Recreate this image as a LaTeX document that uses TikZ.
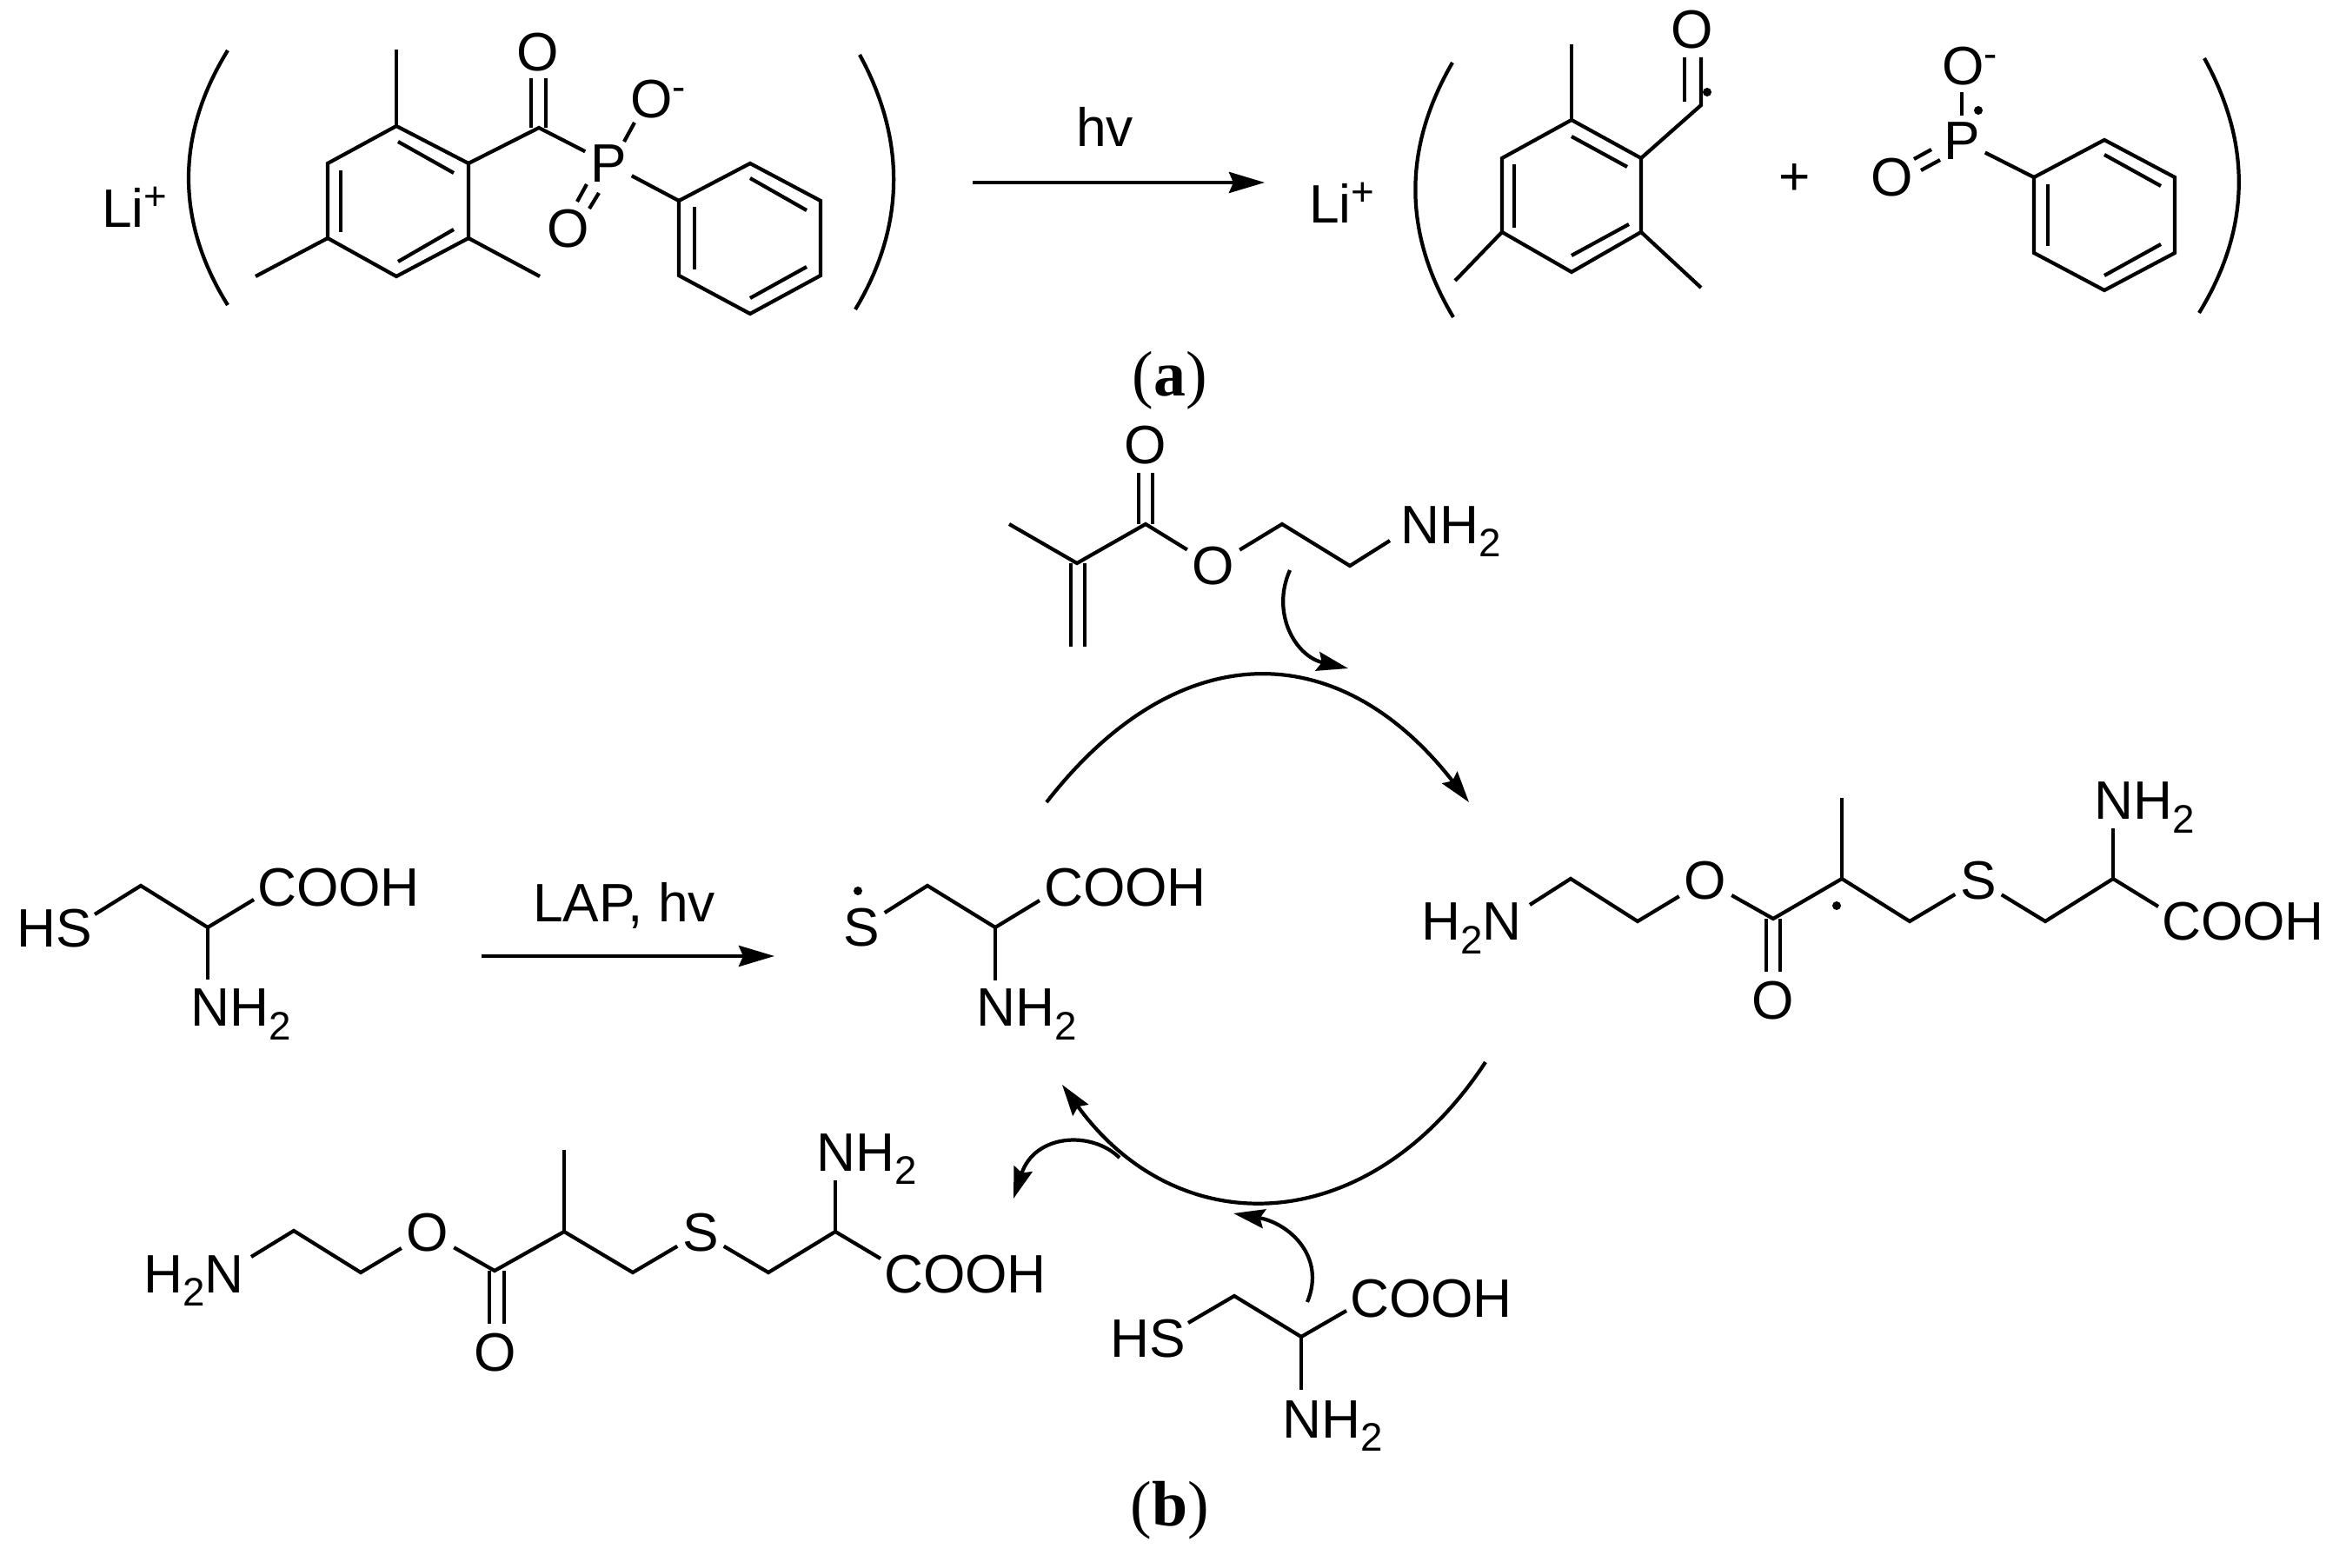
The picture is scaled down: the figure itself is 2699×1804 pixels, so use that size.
\documentclass[tikz,border=0pt]{standalone}
\usepackage{fontspec}
\usepackage{tikz}
\usetikzlibrary{arrows.meta}
\setmainfont{Liberation Sans}
\newfontfamily\capfont{Liberation Serif}
\newcommand{\subtwo}{\raisebox{-.15cm}{\fontsize{13}{13}\selectfont 2}}
\newcommand{\upsign}[1]{\raisebox{.2cm}{\fontsize{13}{13}\selectfont #1}}

\begin{document}
\begin{tikzpicture}[x=0.01cm, y=-0.01cm, line width=1.2pt,
    atom/.style={inner sep=0pt, outer sep=.06cm, font=\fontsize{17.7}{20}\selectfont},
    group/.style={anchor=base west, inner sep=0pt, xshift=-.03cm, font=\fontsize{17.7}{20}\selectfont},
    subfig/.style={inner sep=0pt, font=\capfont\fontsize{21}{24}\selectfont},
    dot/.style={circle, fill, inner sep=0pt, minimum size=.1cm},
    react/.style={-{Stealth[length=.41cm, width=.24cm, inset=.05cm]}},
    curv/.style={-{Stealth[length=.36cm, width=.22cm, inset=.05cm]}}]
    \useasboundingbox (0,0) rectangle (2699,1804);

    % (a) left side
    \node [group] (lia) at (118,262) {Li\upsign{+}};
    \path (262,58) coordinate (pa1) (262,351) coordinate (pa2) (989,63) coordinate (pa3) (984,356) coordinate (pa4);
    \draw (pa1) .. controls (202,155) and (202,255) .. (pa2);  %klammer
    \draw (pa3) .. controls (1042,160) and (1042,260) .. (pa4);
    \path (456,145) coordinate (a1) (539,188) coordinate (a2) (539,274) coordinate (a3)
          (456,318) coordinate (a4) (377,274) coordinate (a5) (377,188) coordinate (a6);
    \path (458,163) coordinate (ai1) (522,199) coordinate (ai2) (392,196) coordinate (ai3)
          (392,267) coordinate (ai4) (458,301) coordinate (ai5) (522,264) coordinate (ai6);
    \path (456,57) coordinate (am1) (294,318) coordinate (am2) (621,318) coordinate (am3);
    \draw (a1) -- (a2) -- (a3) -- (a4) -- (a5) -- (a6) -- cycle;  %ring
    \draw (ai1) -- (ai2);
    \draw (ai3) -- (ai4);
    \draw (ai5) -- (ai6);
    \draw (a1) -- (am1);
    \draw (a5) -- (am2);
    \draw (a3) -- (am3);
    \path (620,147) coordinate (ac) (611,147) coordinate (ad1) (611,90) coordinate (ad2)
          (628,147) coordinate (ad3) (628,90) coordinate (ad4);
    \node [atom] (ao1) at (619,60) {O};
    \node [atom] (ap) at (700,188) {P};
    \node [group] (ao2) at (726,136) {O\upsign{-}};
    \node [atom] (ao3) at (654,263) {O};
    \path (718,163) coordinate (ab1) (730,141) coordinate (ab2) (675,212) coordinate (ab3)
          (664,232) coordinate (ab4) (689,222) coordinate (ab5) (678,240) coordinate (ab6);
    \draw (a2) -- (ac) -- (ap);
    \draw (ad1) -- (ad2);
    \draw (ad3) -- (ad4);
    \draw (ab1) -- (ab2);
    \draw (ab3) -- (ab4);
    \draw (ab5) -- (ab6);
    \path (781,231) coordinate (p1) (863,188) coordinate (p2) (944,231) coordinate (p3)
          (944,317) coordinate (p4) (863,361) coordinate (p5) (781,317) coordinate (p6);
    \path (863,205) coordinate (pi1) (928,242) coordinate (pi2) (799,238) coordinate (pi3)
          (799,310) coordinate (pi4) (863,343) coordinate (pi5) (928,307) coordinate (pi6);
    \draw (p1) -- (p2) -- (p3) -- (p4) -- (p5) -- (p6) -- cycle;
    \draw (pi1) -- (pi2);
    \draw (pi3) -- (pi4);
    \draw (pi5) -- (pi6);
    \draw (ap) -- (p1);

    % (a) arrow
    \path (1119,210) coordinate (ar1) (1455,210) coordinate (ar2);
    \draw [react] (ar1) -- (ar2);
    \node [group] (hva) at (1239,169) {hv};

    % (a) right side
    \node [group] (lib) at (1507,257) {Li\upsign{+}};
    \path (1671,72) coordinate (pb1) (1672,365) coordinate (pb2) (2536,67) coordinate (pb3) (2530,360) coordinate (pb4);
    \draw (pb1) .. controls (1614,170) and (1614,268) .. (pb2);
    \draw (pb3) .. controls (2590,165) and (2590,262) .. (pb4);
    \path (1808,138) coordinate (b1) (1888,182) coordinate (b2) (1888,267) coordinate (b3)
          (1808,313) coordinate (b4) (1728,267) coordinate (b5) (1728,182) coordinate (b6);
    \path (1808,157) coordinate (bi1) (1872,192) coordinate (bi2) (1742,189) coordinate (bi3)
          (1742,262) coordinate (bi4) (1808,294) coordinate (bi5) (1874,258) coordinate (bi6);
    \path (1808,51) coordinate (bm1) (1674,323) coordinate (bm2) (1957,331) coordinate (bm3);
    \draw (b1) -- (b2) -- (b3) -- (b4) -- (b5) -- (b6) -- cycle;
    \draw (bi1) -- (bi2);
    \draw (bi3) -- (bi4);
    \draw (bi5) -- (bi6);
    \draw (b1) -- (bm1);
    \draw (b5) -- (bm2);
    \draw (b3) -- (bm3);
    \path (1957,121) coordinate (bc) (1938,117) coordinate (bd1) (1938,66) coordinate (bd2) (1957,66) coordinate (bd3);
    \node [atom] (bo1) at (1947,34) {O};
    \node [dot] (bdot) at (1964,106) {};
    \draw (b2) -- (bc) -- (bd3);
    \draw (bd1) -- (bd2);
    \node [group] (plus) at (2047,225) {+};
    \node [atom] (bp) at (2257,162) {P};
    \node [group] (bo2) at (2235,98) {O\upsign{-}};
    \node [atom] (bo3) at (2177,204) {O};
    \node [dot] (bdot2) at (2276,127) {};
    \path (2257,106) coordinate (bb1) (2257,133) coordinate (bb2) (2202,183) coordinate (bb3)
          (2222,172) coordinate (bb4) (2210,196) coordinate (bb5) (2232,184) coordinate (bb6);
    \draw (bb1) -- (bb2);
    \draw (bb3) -- (bb4);
    \draw (bb5) -- (bb6);
    \path (2340,204) coordinate (q1) (2421,161) coordinate (q2) (2502,204) coordinate (q3)
          (2502,291) coordinate (q4) (2421,334) coordinate (q5) (2340,291) coordinate (q6);
    \path (2421,178) coordinate (qi1) (2486,214) coordinate (qi2) (2356,212) coordinate (qi3)
          (2356,283) coordinate (qi4) (2421,317) coordinate (qi5) (2486,281) coordinate (qi6);
    \draw (q1) -- (q2) -- (q3) -- (q4) -- (q5) -- (q6) -- cycle;
    \draw (qi1) -- (qi2);
    \draw (qi3) -- (qi4);
    \draw (qi5) -- (qi6);
    \draw (bp) -- (q1);
    \node [subfig] (capa) at (1346,438) {(\textbf{a})};

    % methacrylat
    \path (1161,603) coordinate (m1) (1239,648) coordinate (m2) (1318,603) coordinate (m3)
          (1475,603) coordinate (m4) (1553,651) coordinate (m5) (1599,622) coordinate (m6);
    \path (1232,648) coordinate (md1) (1232,744) coordinate (md2) (1248,648) coordinate (md3) (1248,744) coordinate (md4)
          (1310,603) coordinate (md5) (1310,544) coordinate (md6) (1326,603) coordinate (md7) (1326,544) coordinate (md8);
    \node [atom] (mo1) at (1318,512) {O};
    \node [atom] (mo2) at (1396,651) {O};
    \node [group] (mn) at (1612,626) {NH\subtwo};
    \draw (m1) -- (m2) -- (m3) -- (mo2) -- (m4) -- (m5) -- (m6);
    \draw (md1) -- (md2);
    \draw (md3) -- (md4);
    \draw (md5) -- (md6);
    \draw (md7) -- (md8);
    \path (1484,656) coordinate (k1s) (1551,769) coordinate (k1e);
    \draw [curv] (k1s) .. controls (1462,705) and (1490,755) .. (k1e);

    % kreis
    \path (1204,923) coordinate (k2s) (1690,923) coordinate (k2e) (1709,1222) coordinate (k3s) (1222,1248) coordinate (k3e);
    \draw [curv] (k2s) .. controls (1354,730) and (1540,730) .. (k2e);
    \draw [curv] (k3s) .. controls (1575,1426) and (1356,1433) .. (k3e);
    \path (1288,1332) coordinate (k4s) (1166,1379) coordinate (k4e) (1504,1498) coordinate (k5s) (1419,1396) coordinate (k5e);
    \draw [curv] (k4s) .. controls (1255,1300) and (1190,1305) .. (k4e);
    \draw [curv] (k5s) .. controls (1526,1445) and (1482,1407) .. (k5e);

    % radikal rechts
    \path (1760,1041) coordinate (r0) (1807,1011) coordinate (r1) (1884,1060) coordinate (r2) (2040,1057) coordinate (r3)
          (2119,1011) coordinate (r4) (2197,1060) coordinate (r5) (2353,1060) coordinate (r6) (2431,1011) coordinate (r7)
          (2119,918) coordinate (rm) (2431,953) coordinate (rn) (2483,1043) coordinate (rk);
    \path (2032,1057) coordinate (rd1) (2032,1118) coordinate (rd2) (2048,1057) coordinate (rd3) (2048,1118) coordinate (rd4);
    \node [group] (rh) at (1636,1082) {H\subtwo N};
    \node [atom] (ro1) at (1962,1013) {O};
    \node [atom] (rs) at (2276,1013) {S};
    \node [atom] (ro2) at (2040,1151) {O};
    \node [group] (rnh) at (2410,943) {NH\subtwo};
    \node [group] (rcooh) at (2488,1082) {COOH};
    \node [dot] (rdot) at (2113,1042) {};
    \draw (r0) -- (r1) -- (r2) -- (ro1) -- (r3) -- (r4) -- (r5) -- (rs) -- (r6) -- (r7) -- (rk);
    \draw (r4) -- (rm);
    \draw (r7) -- (rn);
    \draw (rd1) -- (rd2);
    \draw (rd3) -- (rd4);

    % cystein links
    \path (109,1052) coordinate (c0) (162,1019) coordinate (c1) (239,1067) coordinate (c2)
          (292,1035) coordinate (c3) (239,1127) coordinate (c4);
    \node [group] (chs) at (20,1090) {HS};
    \node [group] (ccooh) at (297,1043) {COOH};
    \node [group] (cnh) at (220,1181) {NH\subtwo};
    \draw (c0) -- (c1) -- (c2) -- (c3);
    \draw (c2) -- (c4);
    \path (554,1100) coordinate (ar3) (891,1100) coordinate (ar4);
    \draw [react] (ar3) -- (ar4);
    \node [group] (lap) at (614,1061) {LAP, hv};

    % cystein radikal
    \path (1067,1019) coordinate (d1) (1145,1067) coordinate (d2) (1196,1036) coordinate (d3) (1145,1128) coordinate (d4);
    \node [atom] (ds) at (991,1067) {S};
    \node [dot] (ddot) at (987,1025) {};
    \node [group] (dcooh) at (1202,1043) {COOH};
    \node [group] (dnh) at (1124,1181) {NH\subtwo};
    \draw (ds) -- (d1) -- (d2) -- (d3);
    \draw (d2) -- (d4);

    % produkt unten
    \path (289,1446) coordinate (t0) (338,1416) coordinate (t1) (415,1464) coordinate (t2) (569,1462) coordinate (t3)
          (649,1417) coordinate (t4) (728,1464) coordinate (t5) (884,1464) coordinate (t6) (961,1417) coordinate (t7)
          (649,1323) coordinate (tm) (961,1358) coordinate (tn) (1013,1448) coordinate (tk);
    \path (563,1462) coordinate (td1) (563,1523) coordinate (td2) (580,1462) coordinate (td3) (580,1523) coordinate (td4);
    \node [group] (th) at (166,1487) {H\subtwo N};
    \node [atom] (to1) at (492,1418) {O};
    \node [atom] (ts) at (806,1418) {S};
    \node [atom] (to2) at (570,1556) {O};
    \node [group] (tnh) at (940,1347) {NH\subtwo};
    \node [group] (tcooh) at (1018,1487) {COOH};
    \draw (t0) -- (t1) -- (t2) -- (to1) -- (t3) -- (t4) -- (t5) -- (ts) -- (t6) -- (t7) -- (tk);
    \draw (t4) -- (tm);
    \draw (t7) -- (tn);
    \draw (td1) -- (td2);
    \draw (td3) -- (td4);

    % cystein unten
    \path (1367,1522) coordinate (e0) (1420,1491) coordinate (e1) (1497,1538) coordinate (e2)
          (1549,1508) coordinate (e3) (1497,1599) coordinate (e4);
    \node [group] (ehs) at (1278,1561) {HS};
    \node [group] (ecooh) at (1554,1515) {COOH};
    \node [group] (enh) at (1476,1654) {NH\subtwo};
    \draw (e0) -- (e1) -- (e2) -- (e3);
    \draw (e2) -- (e4);
    \node [subfig] (capb) at (1346,1738) {(\textbf{b})};
\end{tikzpicture}
\end{document}
